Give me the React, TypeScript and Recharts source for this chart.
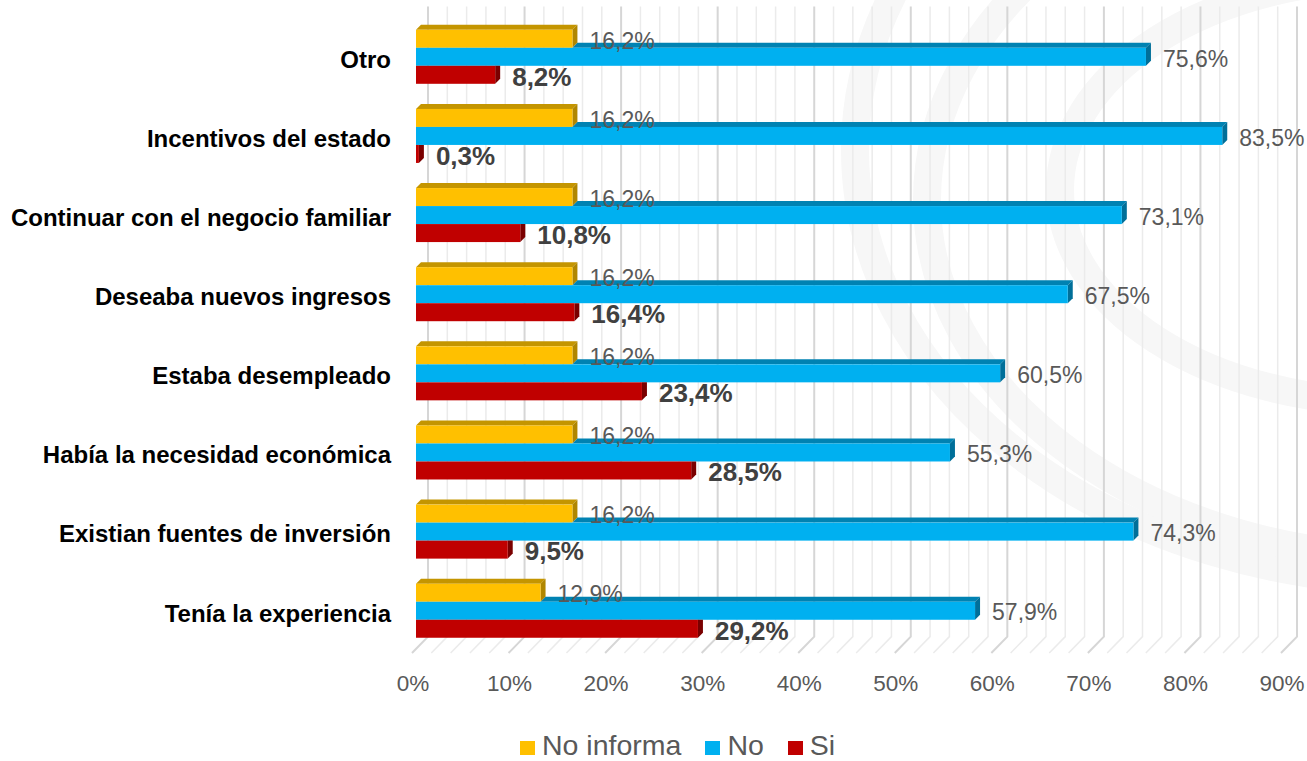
import { BarChart, Bar, XAxis, YAxis, CartesianGrid, Legend, LabelList } from 'recharts';

const categories = [
  'Otro',
  'Incentivos del estado',
  'Continuar con el negocio familiar',
  'Deseaba nuevos ingresos',
  'Estaba desempleado',
  'Había la necesidad económica',
  'Existian fuentes de inversión',
  'Tenía la experiencia',
];
const noInforma = [16.2, 16.2, 16.2, 16.2, 16.2, 16.2, 16.2, 12.9];
const no = [75.6, 83.5, 73.1, 67.5, 60.5, 55.3, 74.3, 57.9];
const si = [8.2, 0.3, 10.8, 16.4, 23.4, 28.5, 9.5, 29.2];

const majorTicks = [0, 10, 20, 30, 40, 50, 60, 70, 80, 90];
// minor grid every 2%
const gridTicks = Array.from({ length: 46 }, (_, i) => i * 2);

const FONT = '"Liberation Sans", Arial, sans-serif';
const DEPTH = 5;

const data = categories.map((name, i) => ({
  name,
  noInforma: noInforma[i],
  no: no[i],
  si: si[i],
}));

const fmt = (v: number) => `${v.toFixed(1).replace('.', ',')}%`;

// front face + top + side, top face hidden where the bar above covers it
const make3D = (key: string, prevKey: string | null, front: string, top: string, side: string) =>
  (props: any) => {
    const { x, y, width, height, payload } = props;
    if (!width || width <= 0) return <g />;
    const d = DEPTH;
    const own = payload[key];
    const prev = prevKey ? payload[prevKey] : 0;
    const xe = x + width;
    const covered = prevKey !== null && prev >= own;
    const topStart = prevKey ? x + Math.min(width, (width * prev) / own) : x;
    return (
      <g>
        {!covered && (
          <polygon
            points={`${topStart},${y} ${topStart + d},${y - d} ${xe + d},${y - d} ${xe},${y}`}
            fill={top}
          />
        )}
        {covered ? (
          <polygon points={`${xe},${y} ${xe + d},${y} ${xe + d},${y + height - d} ${xe},${y + height}`} fill={side} />
        ) : (
          <polygon
            points={`${xe},${y} ${xe + d},${y - d} ${xe + d},${y + height - d} ${xe},${y + height}`}
            fill={side}
          />
        )}
        <rect x={x} y={y} width={width} height={height} fill={front} />
      </g>
    );
  };

const makeLabel = (color: string, bold: boolean, size: number) => (props: any) => {
  const { x, y, width, height, value } = props;
  return (
    <text
      x={x + width + 17}
      y={y + height / 2 + 1.5 + size * 0.358}
      fill={color}
      fontFamily={FONT}
      fontSize={size}
      fontWeight={bold ? 'bold' : 'normal'}
    >
      {fmt(value)}
    </text>
  );
};

const gridLine = (p: any) => {
  const { x1, y1, y2, index } = p;
  const major = index % 5 === 0;
  return (
    <path
      key={`g-${index}`}
      d={`M${x1 + 12},${y1 - 10} L${x1 + 12},${y2 - 13} L${x1 - 4},${y2 + 3.4}`}
      stroke={major ? '#d6d6d6' : '#ebebeb'}
      strokeWidth={major ? 2 : 1.5}
      fill="none"
    />
  );
};

const XTick = (props: any) => {
  const { x, y, payload } = props;
  if (!majorTicks.includes(payload.value)) return <g />;
  return (
    <text x={x - 3} y={y + 41.4} textAnchor="middle" fill="#595959" fontFamily={FONT} fontSize={22.5}>
      {payload.value}%
    </text>
  );
};

const YTick = (props: any) => {
  const { x, y, payload } = props;
  return (
    <text x={x} y={y + 11.6} textAnchor="end" fill="#000" fontFamily={FONT} fontSize={24} fontWeight="bold">
      {payload.value}
    </text>
  );
};

const legendItems = [
  { label: 'No informa', color: '#FFC000' },
  { label: 'No', color: '#00B0F0' },
  { label: 'Si', color: '#C00000' },
];

const LegendContent = () => (
  <div style={{ display: 'flex', alignItems: 'center', fontFamily: FONT, fontSize: 28.5, lineHeight: '28.5px', color: '#595959', whiteSpace: 'nowrap' }}>
    {legendItems.map((it, i) => (
      <div key={it.label} style={{ display: 'flex', alignItems: 'center', marginLeft: i === 0 ? 0 : 24 }}>
        <span style={{ display: 'inline-block', width: 15, height: 14, background: it.color, marginRight: 7, marginTop: 6 }} />
        <span>{it.label}</span>
      </div>
    ))}
  </div>
);

// faint watermark rings behind the plot
const Watermark = () => (
  <svg width={1307} height={761} style={{ position: 'absolute', left: 0, top: 0 }}>
    <g fill="none" stroke="#f7f7f7" strokeWidth={28}>
      <ellipse cx={1420} cy={150} rx={565} ry={432} />
      <ellipse cx={1420} cy={200} rx={493} ry={358} />
      <ellipse cx={1390} cy={190} rx={330} ry={212} />
    </g>
  </svg>
);

export default function App() {
  return (
    <div style={{ position: 'absolute', left: 0, top: 0, width: 1307, height: 761, background: '#fff', overflow: 'hidden' }}>
      <Watermark />
      <div style={{ position: 'absolute', left: 0, top: 0 }}>
        <BarChart
          width={1307}
          height={761}
          data={data}
          layout="vertical"
          margin={{ top: 16.5, right: 22, left: 0, bottom: 71.4 }}
          barCategoryGap="16.8%"
          barGap={0}
        >
          <CartesianGrid horizontal={false} vertical={gridLine} />
          <XAxis
            type="number"
            domain={[0, 90]}
            ticks={gridTicks}
            interval={0}
            tick={<XTick />}
            axisLine={false}
            tickLine={false}
            tickSize={0}
            tickMargin={0}
            height={40}
          />
          <YAxis
            type="category"
            dataKey="name"
            width={416}
            axisLine={false}
            tickLine={false}
            tickSize={0}
            tickMargin={25}
            interval={0}
            tick={<YTick />}
          />
          <Legend
            layout="horizontal"
            verticalAlign="middle"
            align="center"
            content={<LegendContent />}
            wrapperStyle={{ left: 520, top: 731, width: 'auto', height: 'auto' }}
          />
          <Bar
            dataKey="noInforma"
            name="No informa"
            fill="#FFC000"
            isAnimationActive={false}
            shape={make3D('noInforma', null, '#FFC000', '#C49500', '#B08600')}
          >
            <LabelList dataKey="noInforma" content={makeLabel('#595959', false, 23)} />
          </Bar>
          <Bar
            dataKey="no"
            name="No"
            fill="#00B0F0"
            isAnimationActive={false}
            shape={make3D('no', 'noInforma', '#00B0F0', '#0082B2', '#006F99')}
          >
            <LabelList dataKey="no" content={makeLabel('#595959', false, 23)} />
          </Bar>
          <Bar
            dataKey="si"
            name="Si"
            fill="#C00000"
            isAnimationActive={false}
            shape={make3D('si', 'no', '#C00000', '#8E0000', '#7A0000')}
          >
            <LabelList dataKey="si" content={makeLabel('#404040', true, 26)} />
          </Bar>
        </BarChart>
      </div>
    </div>
  );
}
